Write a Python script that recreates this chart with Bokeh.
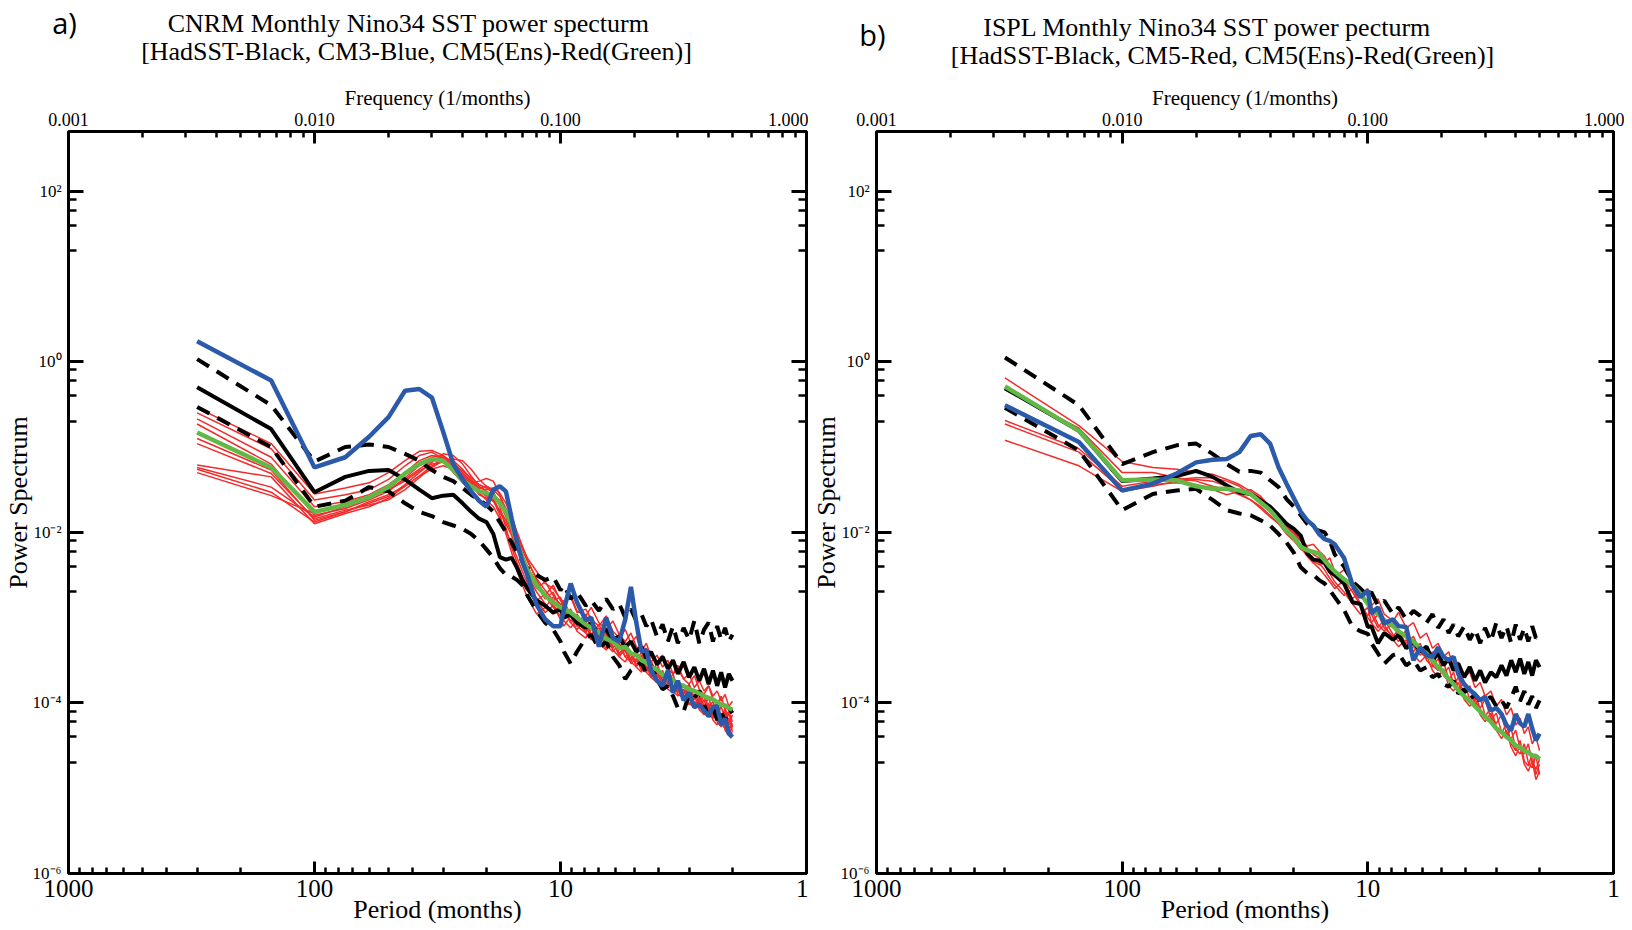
import math
from bokeh.plotting import figure
from bokeh.models import Range1d, LogAxis, FixedTicker, CustomJSTickFormatter, Label
from bokeh.layouts import row, column
from bokeh.embed import file_html
from bokeh.resources import INLINE

# ---------------- data ----------------
# spectral harmonics k of a 300-month record: frequency = k/300 (1/months), period = 300/k months
RECORD_MONTHS = 300
harmonics = [1, 2, 3, 4, 5, 6, 7, 8, 9, 10,
             11, 12, 13, 14, 15, 16, 17, 18, 19, 20,
             21, 22, 24, 26, 28, 30, 31, 33, 35, 38,
             40, 43, 46, 49, 52, 55, 58, 61, 64, 67,
             70, 74, 78, 82, 86, 90, 95, 100, 105, 110,
             115, 120, 125, 130, 135, 140, 145, 150]

# ----- panel a (CNRM): log10 of power -----
a_hadsst = [-0.30, -0.79, -1.53, -1.35, -1.28, -1.27, -1.38, -1.50, -1.60, -1.57,
            -1.56, -1.66, -1.76, -1.84, -1.88, -2.02, -2.29, -2.32, -2.30, -2.42,
            -2.56, -2.66, -2.80, -2.86, -2.94, -2.90, -3.00, -2.96, -3.06, -3.12,
            -3.06, -3.20, -3.14, -3.26, -3.22, -3.35, -3.28, -3.40, -3.34, -3.48,
            -3.40, -3.55, -3.46, -3.60, -3.50, -3.66, -3.52, -3.70, -3.58, -3.74,
            -3.60, -3.78, -3.62, -3.80, -3.64, -3.82, -3.66, -3.74]
a_hadsst_upper = [0.03, -0.51, -1.17, -1.00, -0.97, -1.00, -1.08, -1.16, -1.27, -1.35,
                  -1.40, -1.48, -1.56, -1.62, -1.68, -1.76, -1.88, -2.00, -2.12, -2.24,
                  -2.34, -2.42, -2.50, -2.56, -2.52, -2.68, -2.62, -2.78, -2.70, -2.86,
                  -2.80, -2.92, -2.78, -2.90, -2.84, -3.00, -2.90, -3.04, -2.96, -3.10,
                  -3.02, -3.22, -3.08, -3.28, -3.10, -3.30, -3.12, -3.26, -3.04, -3.30,
                  -3.14, -3.06, -3.28, -3.10, -3.26, -3.12, -3.28, -3.20]
a_hadsst_lower = [-0.53, -1.00, -1.70, -1.63, -1.47, -1.52, -1.66, -1.76, -1.81, -1.88,
                  -1.92, -1.96, -2.02, -2.10, -2.20, -2.30, -2.42, -2.50, -2.52, -2.56,
                  -2.62, -2.74, -2.92, -3.06, -3.14, -3.28, -3.40, -3.54, -3.40, -3.24,
                  -3.20, -3.36, -3.28, -3.46, -3.56, -3.72, -3.62, -3.58, -3.52, -3.66,
                  -3.56, -3.72, -3.84, -3.80, -3.92, -4.06, -4.10, -3.90, -3.94, -3.86,
                  -4.02, -4.16, -4.06, -4.20, -4.10, -4.22, -4.06, -4.12]
a_cm3 = [0.24, -0.22, -1.24, -1.12, -0.88, -0.65, -0.34, -0.32, -0.42, -0.82,
         -1.20, -1.38, -1.52, -1.63, -1.70, -1.50, -1.46, -1.52, -1.84, -2.12,
         -2.35, -2.50, -2.85, -3.02, -3.10, -3.10, -2.90, -2.60, -2.82, -3.03,
         -3.00, -3.34, -3.00, -3.24, -3.28, -3.02, -2.64, -3.06, -3.40, -3.38,
         -3.62, -3.74, -3.80, -3.62, -3.88, -3.74, -3.97, -3.88, -4.05, -4.02,
         -4.09, -4.15, -4.05, -4.04, -4.26, -4.18, -4.36, -4.40]
a_cm5_ens_mean = [-0.83, -1.24, -1.76, -1.68, -1.59, -1.47, -1.31, -1.20, -1.14, -1.16,
                  -1.27, -1.39, -1.46, -1.52, -1.54, -1.57, -1.66, -1.76, -1.92, -2.12,
                  -2.30, -2.44, -2.62, -2.74, -2.82, -2.88, -2.90, -2.94, -3.00, -3.08,
                  -3.12, -3.18, -3.25, -3.28, -3.36, -3.34, -3.42, -3.44, -3.50, -3.53,
                  -3.58, -3.61, -3.67, -3.70, -3.73, -3.78, -3.80, -3.84, -3.86, -3.89,
                  -3.92, -3.94, -3.96, -3.99, -4.02, -4.03, -4.06, -4.08]
a_cm5_m1 = [-0.54, -0.96, -1.55, -1.48, -1.42, -1.30, -1.16, -1.05, -1.04, -1.10,
            -1.22, -1.38, -1.42, -1.40, -1.37, -1.40, -1.56, -1.76, -1.92, -2.06,
            -2.18, -2.30, -2.46, -2.60, -2.66, -2.78, -2.82, -2.76, -2.94, -2.90,
            -3.02, -3.10, -2.98, -3.16, -3.24, -3.14, -3.30, -3.22, -3.40, -3.36,
            -3.52, -3.44, -3.58, -3.50, -3.66, -3.60, -3.72, -3.66, -3.82, -3.74,
            -3.86, -3.80, -3.92, -3.86, -3.98, -3.90, -4.04, -3.98]
a_cm5_m2 = [-0.60, -1.02, -1.62, -1.56, -1.50, -1.38, -1.22, -1.10, -1.06, -1.14,
            -1.30, -1.42, -1.50, -1.48, -1.46, -1.52, -1.70, -1.95, -2.18, -2.36,
            -2.52, -2.64, -2.80, -2.72, -2.86, -2.94, -2.88, -3.06, -3.00, -3.16,
            -3.08, -3.26, -3.18, -3.34, -3.30, -3.46, -3.40, -3.56, -3.44, -3.62,
            -3.54, -3.70, -3.62, -3.78, -3.70, -3.86, -3.78, -3.94, -3.84, -4.00,
            -3.92, -4.06, -3.98, -4.14, -4.04, -4.20, -4.10, -4.22]
a_cm5_m3 = [-0.67, -1.12, -1.70, -1.64, -1.56, -1.44, -1.30, -1.16, -1.10, -1.12,
            -1.24, -1.36, -1.44, -1.56, -1.60, -1.58, -1.62, -1.74, -1.90, -2.10,
            -2.28, -2.44, -2.62, -2.78, -2.70, -2.88, -2.96, -2.90, -3.08, -3.04,
            -3.20, -3.12, -3.30, -3.22, -3.42, -3.34, -3.50, -3.42, -3.58, -3.50,
            -3.66, -3.58, -3.74, -3.64, -3.82, -3.74, -3.90, -3.80, -3.96, -3.88,
            -4.04, -3.94, -4.10, -4.00, -4.18, -4.06, -4.26, -4.14]
a_cm5_m4 = [-0.73, -1.20, -1.80, -1.72, -1.62, -1.52, -1.36, -1.22, -1.12, -1.10,
            -1.18, -1.30, -1.40, -1.50, -1.56, -1.62, -1.80, -2.02, -2.24, -2.46,
            -2.62, -2.76, -2.96, -2.88, -2.76, -2.84, -3.00, -2.94, -3.10, -3.18,
            -3.06, -3.24, -3.36, -3.28, -3.44, -3.38, -3.54, -3.48, -3.62, -3.56,
            -3.70, -3.64, -3.78, -3.72, -3.88, -3.80, -3.94, -3.88, -4.02, -3.94,
            -4.10, -4.00, -4.16, -4.06, -4.22, -4.12, -4.30, -4.24]
a_cm5_m5 = [-0.90, -1.27, -1.86, -1.76, -1.66, -1.58, -1.44, -1.30, -1.18, -1.08,
            -1.10, -1.20, -1.34, -1.46, -1.52, -1.60, -1.76, -1.90, -2.04, -2.20,
            -2.36, -2.50, -2.70, -2.84, -2.96, -2.90, -3.04, -3.12, -3.02, -3.18,
            -3.26, -3.16, -3.32, -3.40, -3.30, -3.46, -3.52, -3.42, -3.60, -3.64,
            -3.56, -3.72, -3.80, -3.70, -3.86, -3.92, -3.84, -4.00, -4.06, -3.96,
            -4.12, -4.16, -4.06, -4.22, -4.28, -4.14, -4.32, -4.36]
a_cm5_m6 = [-0.96, -1.31, -1.84, -1.74, -1.68, -1.62, -1.50, -1.36, -1.24, -1.16,
            -1.14, -1.16, -1.26, -1.38, -1.46, -1.50, -1.58, -1.72, -1.88, -2.04,
            -2.20, -2.34, -2.54, -2.68, -2.80, -2.76, -2.92, -3.04, -2.96, -3.12,
            -3.20, -3.08, -3.26, -3.36, -3.24, -3.40, -3.48, -3.38, -3.54, -3.60,
            -3.50, -3.68, -3.74, -3.64, -3.82, -3.88, -3.78, -3.96, -4.02, -3.92,
            -4.08, -4.12, -4.02, -4.18, -4.24, -4.10, -4.28, -4.30]
a_cm5_m7 = [-1.21, -1.35, -1.90, -1.78, -1.70, -1.60, -1.46, -1.34, -1.22, -1.14,
            -1.16, -1.26, -1.38, -1.48, -1.50, -1.48, -1.54, -1.66, -1.82, -2.00,
            -2.16, -2.32, -2.56, -2.74, -2.88, -2.98, -2.90, -3.06, -3.14, -3.04,
            -3.22, -3.30, -3.20, -3.38, -3.46, -3.36, -3.52, -3.58, -3.48, -3.64,
            -3.70, -3.60, -3.76, -3.82, -3.72, -3.90, -3.94, -3.84, -4.00, -4.06,
            -3.96, -4.14, -4.18, -4.08, -4.24, -4.30, -4.18, -4.34]
a_cm5_m8 = [-1.24, -1.47, -1.82, -1.70, -1.60, -1.50, -1.40, -1.28, -1.20, -1.18,
            -1.22, -1.32, -1.42, -1.52, -1.58, -1.64, -1.74, -1.86, -2.00, -2.14,
            -2.30, -2.46, -2.66, -2.58, -2.74, -2.86, -2.80, -2.98, -3.06, -2.96,
            -3.14, -3.22, -3.12, -3.30, -3.38, -3.28, -3.44, -3.52, -3.40, -3.58,
            -3.64, -3.54, -3.70, -3.76, -3.66, -3.84, -3.88, -3.78, -3.94, -4.00,
            -3.90, -4.08, -4.12, -4.02, -4.20, -4.24, -4.12, -4.28]
a_cm5_m9 = [-1.26, -1.53, -1.88, -1.76, -1.64, -1.56, -1.46, -1.34, -1.26, -1.22,
            -1.26, -1.34, -1.44, -1.54, -1.62, -1.70, -1.84, -1.98, -2.14, -2.30,
            -2.46, -2.60, -2.80, -2.94, -2.86, -3.02, -3.10, -2.98, -3.16, -3.24,
            -3.12, -3.30, -3.38, -3.26, -3.46, -3.52, -3.40, -3.58, -3.64, -3.52,
            -3.70, -3.76, -3.66, -3.84, -3.88, -3.78, -3.96, -4.02, -3.90, -4.08,
            -4.14, -4.02, -4.20, -4.26, -4.12, -4.32, -4.38, -4.26]
a_cm5_m10 = [-1.30, -1.57, -1.78, -1.66, -1.58, -1.50, -1.38, -1.26, -1.16, -1.12,
             -1.20, -1.28, -1.36, -1.44, -1.48, -1.54, -1.66, -1.82, -1.98, -2.12,
             -2.26, -2.40, -2.60, -2.74, -2.62, -2.80, -2.86, -2.74, -2.92, -2.98,
             -2.88, -3.06, -3.14, -3.04, -3.20, -3.28, -3.18, -3.34, -3.40, -3.30,
             -3.46, -3.52, -3.44, -3.60, -3.66, -3.56, -3.72, -3.78, -3.68, -3.84,
             -3.90, -3.80, -3.96, -4.02, -3.92, -4.08, -4.14, -4.06]
a_cm5_members = [a_cm5_m1, a_cm5_m2, a_cm5_m3, a_cm5_m4, a_cm5_m5,
                 a_cm5_m6, a_cm5_m7, a_cm5_m8, a_cm5_m9, a_cm5_m10]

# ----- panel b (ISPL): log10 of power -----
b_hadsst = [-0.31, -0.81, -1.40, -1.37, -1.34, -1.28, -1.35, -1.45, -1.53, -1.55,
            -1.63, -1.70, -1.80, -1.90, -1.96, -2.04, -2.25, -2.32, -2.33, -2.36,
            -2.46, -2.50, -2.60, -2.82, -2.84, -3.11, -3.10, -3.30, -3.18, -3.26,
            -3.20, -3.36, -3.28, -3.40, -3.34, -3.50, -3.42, -3.56, -3.48, -3.62,
            -3.54, -3.70, -3.58, -3.74, -3.62, -3.76, -3.64, -3.70, -3.56, -3.68,
            -3.50, -3.64, -3.48, -3.66, -3.52, -3.68, -3.50, -3.58]
b_hadsst_upper = [0.05, -0.51, -1.20, -1.06, -0.98, -0.96, -1.08, -1.20, -1.29, -1.28,
                  -1.30, -1.39, -1.47, -1.61, -1.70, -1.80, -1.90, -1.96, -1.98, -2.00,
                  -2.10, -2.26, -2.40, -2.58, -2.66, -2.74, -2.70, -2.86, -2.80, -2.96,
                  -2.88, -3.02, -2.92, -2.98, -3.06, -2.96, -3.12, -3.02, -3.18, -3.08,
                  -3.22, -3.10, -3.26, -3.14, -3.30, -3.12, -3.28, -3.06, -3.24, -3.10,
                  -3.30, -3.08, -3.26, -3.12, -3.28, -3.10, -3.24, -3.20]
b_hadsst_lower = [-0.54, -1.04, -1.74, -1.55, -1.51, -1.49, -1.62, -1.74, -1.78, -1.80,
                  -1.86, -1.92, -2.02, -2.12, -2.24, -2.41, -2.48, -2.50, -2.56, -2.60,
                  -2.68, -2.76, -2.91, -3.11, -3.16, -3.19, -3.30, -3.42, -3.54, -3.44,
                  -3.42, -3.56, -3.50, -3.62, -3.58, -3.70, -3.66, -3.78, -3.81, -3.74,
                  -3.89, -3.84, -3.96, -3.90, -3.98, -3.97, -3.93, -4.04, -3.97, -4.06,
                  -3.94, -3.81, -3.98, -3.86, -4.02, -3.92, -4.06, -3.97]
b_cm5 = [-0.51, -0.94, -1.51, -1.43, -1.31, -1.18, -1.15, -1.14, -1.06, -0.87,
         -0.85, -0.96, -1.24, -1.43, -1.60, -1.76, -1.86, -1.92, -2.02, -2.08,
         -2.10, -2.14, -2.30, -2.62, -2.76, -2.68, -2.95, -2.88, -3.07, -3.02,
         -3.10, -3.11, -3.50, -3.35, -3.44, -3.46, -3.35, -3.46, -3.50, -3.46,
         -3.66, -3.78, -3.85, -3.90, -3.97, -3.93, -4.09, -4.06, -4.13, -4.26,
         -4.32, -4.13, -4.24, -4.28, -4.13, -4.30, -4.44, -4.36]
b_cm5_ens_mean = [-0.29, -0.81, -1.39, -1.38, -1.39, -1.46, -1.49, -1.49, -1.51, -1.55,
                  -1.65, -1.74, -1.86, -1.98, -2.06, -2.17, -2.21, -2.23, -2.25, -2.33,
                  -2.40, -2.46, -2.55, -2.62, -2.72, -2.84, -2.90, -2.96, -3.03, -3.10,
                  -3.16, -3.22, -3.28, -3.36, -3.42, -3.50, -3.58, -3.64, -3.72, -3.78,
                  -3.85, -3.92, -3.98, -4.04, -4.10, -4.16, -4.22, -4.30, -4.34, -4.40,
                  -4.44, -4.50, -4.52, -4.56, -4.58, -4.62, -4.62, -4.66]
b_cm5_m1 = [-0.19, -0.75, -1.17, -1.24, -1.26, -1.30, -1.32, -1.38, -1.44, -1.52,
            -1.60, -1.70, -1.80, -1.92, -2.02, -2.10, -2.16, -2.14, -2.22, -2.28,
            -2.40, -2.52, -2.44, -2.60, -2.74, -2.66, -2.86, -2.78, -2.96, -3.04,
            -2.94, -3.12, -3.06, -3.24, -3.18, -3.36, -3.30, -3.46, -3.40, -3.58,
            -3.52, -3.70, -3.64, -3.82, -3.76, -3.92, -3.86, -4.04, -3.96, -4.14,
            -4.06, -4.26, -4.18, -4.36, -4.28, -4.48, -4.40, -4.56]
b_cm5_m2 = [-0.33, -0.78, -1.30, -1.30, -1.36, -1.40, -1.46, -1.50, -1.56, -1.62,
            -1.70, -1.80, -1.90, -2.02, -2.10, -2.20, -2.24, -2.30, -2.36, -2.44,
            -2.54, -2.62, -2.74, -2.66, -2.84, -2.98, -2.90, -3.08, -3.16, -3.06,
            -3.24, -3.30, -3.22, -3.40, -3.48, -3.40, -3.60, -3.66, -3.58, -3.78,
            -3.84, -3.76, -3.96, -4.02, -3.94, -4.14, -4.20, -4.12, -4.34, -4.40,
            -4.30, -4.54, -4.60, -4.48, -4.70, -4.76, -4.62, -4.84]
b_cm5_m3 = [-0.69, -1.02, -1.46, -1.40, -1.38, -1.36, -1.36, -1.40, -1.46, -1.56,
            -1.66, -1.76, -1.84, -1.94, -2.02, -2.10, -2.22, -2.34, -2.38, -2.36,
            -2.30, -2.46, -2.62, -2.78, -2.68, -2.74, -2.96, -3.12, -3.02, -3.20,
            -3.28, -3.14, -3.34, -3.44, -3.36, -3.56, -3.62, -3.52, -3.72, -3.80,
            -3.70, -3.90, -3.98, -3.88, -4.08, -4.16, -4.06, -4.28, -4.36, -4.24,
            -4.48, -4.56, -4.44, -4.68, -4.74, -4.60, -4.84, -4.72]
b_cm5_m4 = [-0.73, -1.06, -1.50, -1.44, -1.42, -1.44, -1.50, -1.56, -1.52, -1.50,
            -1.58, -1.70, -1.82, -1.92, -2.00, -2.08, -2.18, -2.26, -2.30, -2.38,
            -2.48, -2.58, -2.70, -2.84, -2.96, -2.88, -3.06, -3.16, -3.08, -3.26,
            -3.34, -3.26, -3.44, -3.52, -3.44, -3.62, -3.70, -3.60, -3.80, -3.86,
            -3.76, -3.96, -4.04, -3.94, -4.14, -4.22, -4.12, -4.32, -4.42, -4.32,
            -4.52, -4.62, -4.50, -4.72, -4.80, -4.68, -4.90, -4.80]
b_cm5_m5 = [-0.92, -1.22, -1.52, -1.46, -1.40, -1.38, -1.40, -1.46, -1.54, -1.62,
            -1.72, -1.82, -1.90, -1.98, -2.08, -2.18, -2.28, -2.36, -2.42, -2.50,
            -2.58, -2.66, -2.56, -2.70, -2.86, -3.00, -3.06, -2.96, -3.12, -3.22,
            -3.14, -3.32, -3.40, -3.30, -3.50, -3.58, -3.48, -3.68, -3.74, -3.64,
            -3.84, -3.90, -3.80, -4.00, -4.06, -3.96, -4.18, -4.24, -4.14, -4.36,
            -4.42, -4.32, -4.54, -4.60, -4.48, -4.70, -4.78, -4.66]
b_cm5_members = [b_cm5_m1, b_cm5_m2, b_cm5_m3, b_cm5_m4, b_cm5_m5]

# titles / labels
a_tag = "a)"
a_title = ["CNRM Monthly Nino34 SST power specturm",
           "[HadSST-Black, CM3-Blue, CM5(Ens)-Red(Green)]"]
b_tag = "b)"
b_title = ["ISPL Monthly Nino34 SST power pecturm",
           "[HadSST-Black, CM5-Red, CM5(Ens)-Red(Green)]"]
x_label = "Period (months)"
top_label = "Frequency (1/months)"
y_label = "Power Spectrum"

# ---------------- styling / layout ----------------
BLUE = "#2a5aa9"
RED = "#f42a2a"
GREEN = "#62b846"
SERIF = "Liberation Serif"
SANS = "Open Sans"

HEADER_H = 74
PAGE_W = 1624
FRAME_W = 744
FRAME_H = 742
BORDER_TOP = 57
BORDER_BOTTOM = 56

periods = [RECORD_MONTHS / k for k in harmonics]


def power(logs):
    return [10.0 ** v for v in logs]


period_major = [1000, 100, 10, 1]
period_minor = [m * 10 ** e for e in (0, 1, 2) for m in range(2, 10)]
freq_minor_as_period = [1.0 / (m * 10.0 ** e) for e in (-3, -2, -1) for m in range(2, 10)]
y_major = [1e2, 1e0, 1e-2, 1e-4, 1e-6]
y_minor = [m * 10.0 ** e for e in (-5, -3, -1, 1) for m in (2, 4, 6, 8)]

sup_js = """
const sup = {"-": "\\u207b", "0": "\\u2070", "1": "\\u00b9", "2": "\\u00b2", "3": "\\u00b3",
             "4": "\\u2074", "5": "\\u2075", "6": "\\u2076", "7": "\\u2077", "8": "\\u2078", "9": "\\u2079"};
const e = Math.round(Math.log10(tick));
return "10" + String(e).split("").map(c => sup[c]).join("");
"""


def style_axis(ax, ticks, minors, formatter, tin, minin, size, standoff):
    ax.ticker = FixedTicker(ticks=ticks, minor_ticks=minors)
    ax.formatter = formatter
    ax.axis_line_color = None
    ax.major_tick_in = tin
    ax.major_tick_out = 0
    ax.minor_tick_in = minin
    ax.minor_tick_out = 0
    ax.major_tick_line_width = 3
    ax.minor_tick_line_width = 2.5
    ax.major_tick_line_color = "black"
    ax.minor_tick_line_color = "black"
    ax.major_label_text_font = SERIF
    ax.major_label_text_font_size = size
    ax.major_label_text_color = "black"
    ax.major_label_standoff = standoff


def style_axis_label(ax, text, size, standoff):
    ax.axis_label = text
    ax.axis_label_text_font = SERIF
    ax.axis_label_text_font_size = size
    ax.axis_label_text_font_style = "normal"
    ax.axis_label_text_color = "black"
    ax.axis_label_standoff = standoff


def build_panel(border_left, border_right, hadsst, upper, lower, members, ens_mean, single):
    p = figure(width=border_left + FRAME_W + border_right,
               height=BORDER_TOP + FRAME_H + BORDER_BOTTOM,
               x_axis_type="log", y_axis_type="log",
               x_range=Range1d(1000, 1), y_range=Range1d(1e-6, 500),
               output_backend="svg", toolbar_location=None,
               min_border_left=border_left, min_border_right=border_right,
               min_border_top=BORDER_TOP, min_border_bottom=BORDER_BOTTOM)
    p.grid.visible = False
    p.outline_line_color = "black"
    p.outline_line_width = 3
    p.background_fill_color = "white"
    p.border_fill_color = "white"

    bottom = p.xaxis[0]
    style_axis(bottom, period_major, period_minor,
               CustomJSTickFormatter(code="return tick.toFixed(0);"), 12, 6, "25px", 6)
    style_axis_label(bottom, x_label, "26px", -5)

    left = p.yaxis[0]
    style_axis(left, y_major, y_minor, CustomJSTickFormatter(code=sup_js), 15, 8, "17px", 7)
    style_axis_label(left, y_label, "26px", -3)

    top = LogAxis()
    style_axis(top, period_major, freq_minor_as_period,
               CustomJSTickFormatter(code="return (1/tick).toFixed(3);"), 12, 6, "18px", 6)
    style_axis_label(top, top_label, "21px", 0)
    p.add_layout(top, "above")

    right = LogAxis()
    style_axis(right, y_major, y_minor, CustomJSTickFormatter(code="return '';"), 15, 8, "1px", 0)
    p.add_layout(right, "right")

    for m in members:
        p.line(periods, power(m), line_color=RED, line_width=1.5)
    p.line(periods, power(upper), line_color="black", line_width=4, line_dash="14 9")
    p.line(periods, power(lower), line_color="black", line_width=4, line_dash="14 9")
    p.line(periods, power(hadsst), line_color="black", line_width=4)
    p.line(periods, power(ens_mean), line_color=GREEN, line_width=4.5)
    p.line(periods, power(single), line_color=BLUE, line_width=4.5)
    return p


# header strip holding the panel tags and two-line titles (page-pixel coordinates)
header = figure(width=PAGE_W, height=HEADER_H, x_range=Range1d(0, PAGE_W), y_range=Range1d(HEADER_H, 0),
                x_axis_location=None, y_axis_location=None, output_backend="svg",
                toolbar_location=None, min_border=0)
header.grid.visible = False
header.outline_line_color = None
header.background_fill_color = "white"
header.border_fill_color = "white"


def head_text(text, x, y, size, font=SERIF):
    header.add_layout(Label(x=x, y=y, text=text, text_font=font, text_font_size=size,
                            text_color="black", text_align="center", text_baseline="middle"))


head_text(a_tag, 64, 22, "29px", SANS)
head_text(a_title[0], 408, 23, "26px")
head_text(a_title[1], 416, 51, "26px")
head_text(b_tag, 872, 34, "29px", SANS)
head_text(b_title[0], 1207, 27, "26px")
head_text(b_title[1], 1222, 55, "26px")

pa = build_panel(62, 2, a_hadsst, a_hadsst_upper, a_hadsst_lower,
                 a_cm5_members, a_cm5_ens_mean, a_cm3)
pb = build_panel(61, 11, b_hadsst, b_hadsst_upper, b_hadsst_lower,
                 b_cm5_members, b_cm5_ens_mean, b_cm5)

layout = column(header, row(pa, pb))
with open("out.html", "w", encoding="utf-8") as f:
    f.write(file_html(layout, INLINE))
